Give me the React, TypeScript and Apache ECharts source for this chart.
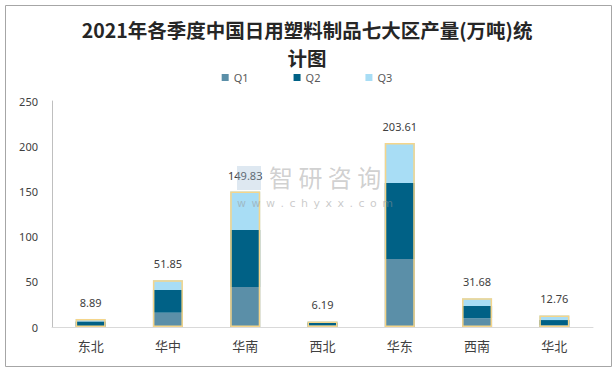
import React, { useEffect, useRef } from "react";
import * as echarts from "echarts";

const categories = ["东北", "华中", "华南", "西北", "华东", "西南", "华北"];
const q1 = [1.0, 15.8, 44.2, 1.5, 75.2, 9.6, 2.2];
const q2 = [5.2, 25.1, 63.1, 3.5, 84.1, 13.6, 5.5];
const q3 = [2.69, 10.95, 42.53, 1.19, 44.31, 8.48, 5.06];
const totals = [8.89, 51.85, 149.83, 6.19, 203.61, 31.68, 12.76];
const yTicks = { min: 0, max: 250, interval: 50 };
const titleText = "2021年各季度中国日用塑料制品七大区产量(万吨)统\n计图";

export default function App() {
  const ref = useRef<HTMLDivElement>(null);
  useEffect(() => {
    document.body.style.margin = "0";
    const chart = echarts.init(ref.current!, null, { renderer: "svg" });
    const barW = 30;
    chart.setOption({
      animation: false,
      backgroundColor: "#ffffff",
      title: {
        text: titleText,
        left: "center",
        top: 10,
        textStyle: {
          fontFamily: "Noto Sans CJK SC",
          fontSize: 19.5,
          fontWeight: "bold",
          color: "#262626",
          lineHeight: 28,
        },
      },
      legend: {
        data: ["Q1", "Q2", "Q3"],
        top: 67,
        left: "center",
        itemWidth: 7,
        itemHeight: 7,
        itemGap: 45,
        icon: "rect",
        textStyle: { fontSize: 11, color: "#595959", fontFamily: "Noto Sans" },
      },
      grid: { left: 52, right: 21, top: 101, bottom: 42 },
      xAxis: {
        type: "category",
        data: categories,
        axisLine: { lineStyle: { color: "#d9d9d9" } },
        axisTick: { show: false },
        axisLabel: { fontSize: 13, color: "#404040", margin: 12, fontFamily: "Noto Sans CJK SC" },
      },
      yAxis: {
        type: "value",
        min: yTicks.min,
        max: yTicks.max,
        interval: yTicks.interval,
        axisLine: { show: true, lineStyle: { color: "#bfbfbf" } },
        axisTick: { show: false },
        splitLine: { show: false },
        axisLabel: { fontSize: 11, color: "#404040", margin: 14, fontFamily: "Noto Sans" },
      },
      graphic: [
        {
          type: "rect",
          left: 3,
          top: 3,
          shape: { width: 606, height: 361 },
          style: { fill: "none", stroke: "#a6a6a6", lineWidth: 1 },
          silent: true,
        },
        {
          type: "rect",
          left: 237,
          top: 166,
          shape: { width: 24, height: 24 },
          style: { fill: "rgba(160,190,215,0.35)" },
          silent: true,
          z: 100,
        },
        {
          type: "text",
          left: 269,
          top: 164,
          style: {
            text: "智 研 咨 询",
            fontSize: 24,
            fontFamily: "Noto Sans CJK SC",
            fill: "rgba(150,150,150,0.45)",
          },
          silent: true,
          z: 100,
        },
        {
          type: "text",
          left: 237,
          top: 198,
          style: {
            text: ["w", "w", "w", ".", "c", "h", "y", "x", "x", ".", "c", "o", "m"].join("\u2002"),
            fontSize: 11,
            fontFamily: "DejaVu Sans",
            fill: "rgba(150,150,150,0.5)",
          },
          silent: true,
          z: 100,
        },
      ],
      series: [
        { name: "Q1", type: "bar", stack: "total", data: q1, barWidth: barW, itemStyle: { color: "#5b8fa8" } },
        { name: "Q2", type: "bar", stack: "total", data: q2, barWidth: barW, itemStyle: { color: "#006186" } },
        { name: "Q3", type: "bar", stack: "total", data: q3, barWidth: barW, itemStyle: { color: "#a8ddf5" } },
        {
          name: "合计",
          type: "bar",
          data: totals,
          barWidth: barW,
          barGap: "-100%",
          z: 3,
          itemStyle: { color: "rgba(0,0,0,0)", borderColor: "#f5d58a", borderWidth: 1.5 },
          label: {
            show: true,
            position: "top",
            distance: 11,
            fontSize: 11,
            color: "#404040",
            fontFamily: "Noto Sans",
          },
        },
      ],
    });
    return () => chart.dispose();
  }, []);
  return <div ref={ref} style={{ width: 614, height: 369 }} />;
}
